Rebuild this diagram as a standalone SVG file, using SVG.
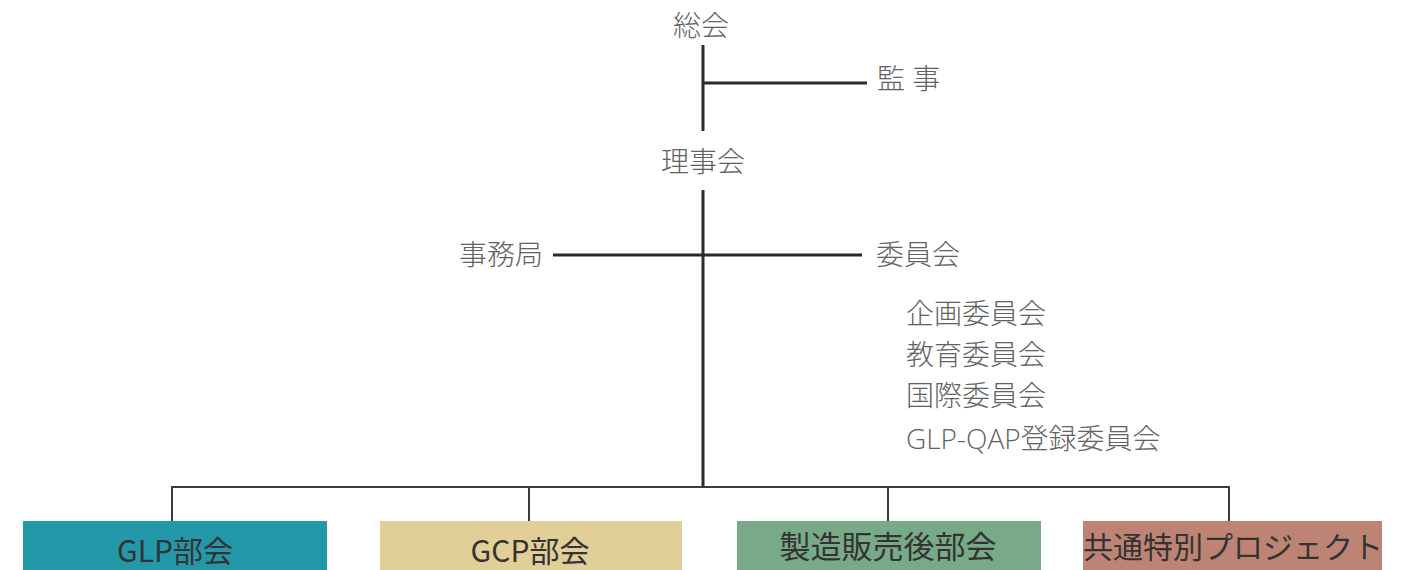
<svg xmlns="http://www.w3.org/2000/svg" width="1409" height="570" viewBox="0 0 1409 570">
<style>
.t{font-family:"Open Sans","Noto Sans CJK JP",sans-serif;font-weight:300;font-size:28px;fill:#626262}
.b{font-family:"Noto Sans CJK JP",sans-serif;font-size:30px;fill:#333;text-anchor:middle}
.c{stroke:#2a2a2a;stroke-width:3;fill:none}
.d{stroke:#3a3a3a;stroke-width:2;fill:none}
</style>
<rect width="1409" height="570" fill="#fff"/>
<g id="connectors">
<path class="c" d="M703 45V131M703 83H867M703 190V488M553 255H862"/>
<path class="d" d="M172 521V487H1229V521M529 487V521M888 487V521"/>
</g>
<g id="soukai"><text class="t" x="701" y="36" text-anchor="middle">総会</text></g>
<g id="kanji"><text class="t" x="877" y="89">監 事</text></g>
<g id="rijikai"><text class="t" x="703" y="172" text-anchor="middle">理事会</text></g>
<g id="jimukyoku"><text class="t" x="459" y="265">事務局</text></g>
<g id="iinkai"><text class="t" x="876" y="265">委員会</text></g>
<g id="sub">
<text class="t" x="906" y="324">企画委員会</text>
<text class="t" x="906" y="365">教育委員会</text>
<text class="t" x="906" y="406">国際委員会</text>
<text class="t" x="906" y="449">GLP-QAP登録委員会</text>
</g>
<g id="glp"><rect x="23" y="521" width="304" height="60" fill="#2398a9"/><text class="b" x="175" y="562">GLP部会</text></g>
<g id="gcp"><rect x="380" y="521" width="302" height="60" fill="#e2cf98"/><text class="b" x="530" y="562">GCP部会</text></g>
<g id="seizo"><rect x="737" y="521" width="304" height="60" fill="#79aa88"/><text class="b" x="888" y="558" style="font-size:31px">製造販売後部会</text></g>
<g id="kyotsu"><rect x="1083" y="521" width="299" height="60" fill="#bd8476"/><text class="b" x="1233" y="558">共通特別プロジェクト</text></g>
</svg>
